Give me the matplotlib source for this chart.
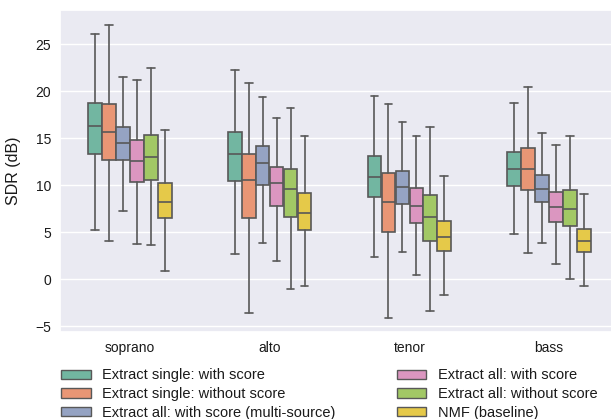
import matplotlib
matplotlib.use("Agg")
import matplotlib.pyplot as plt
import seaborn as sns
from matplotlib.patches import Patch

sns.set_theme(style="darkgrid")
plt.rcParams["font.family"] = ["Liberation Sans", "DejaVu Sans"]

voices = ["soprano", "alto", "tenor", "bass"]
methods = [
    "Extract single: with score",
    "Extract single: without score",
    "Extract all: with score (multi-source)",
    "Extract all: with score",
    "Extract all: without score",
    "NMF (baseline)",
]

# Box statistics per voice, one row per method: (whislo, q1, median, q3, whishi)
soprano = [
    (5.2, 13.3, 16.3, 18.8, 26.1),
    (4.1, 12.7, 15.7, 18.65, 27.1),
    (7.3, 12.65, 14.5, 16.2, 21.55),
    (3.8, 10.4, 12.55, 14.8, 21.2),
    (3.7, 10.6, 13.0, 15.35, 22.45),
    (0.9, 6.5, 8.2, 10.25, 15.9),
]
alto = [
    (2.65, 10.45, 13.35, 15.7, 22.3),
    (-3.55, 6.55, 10.6, 13.35, 20.9),
    (3.9, 10.0, 12.35, 14.15, 19.4),
    (1.95, 7.85, 10.2, 11.9, 17.15),
    (-1.05, 6.6, 9.65, 11.75, 18.25),
    (-0.7, 5.2, 7.1, 9.2, 15.2),
]
tenor = [
    (2.4, 8.8, 10.9, 13.1, 19.5),
    (-4.1, 5.05, 8.2, 11.3, 18.6),
    (2.9, 8.0, 9.8, 11.55, 16.7),
    (0.45, 5.95, 7.8, 9.7, 15.3),
    (-3.4, 4.05, 6.6, 9.0, 16.2),
    (-1.7, 3.05, 4.55, 6.2, 11.0),
]
bass = [
    (4.85, 9.95, 11.7, 13.55, 18.8),
    (2.8, 9.5, 11.75, 13.95, 20.45),
    (3.9, 8.2, 9.6, 11.1, 15.55),
    (1.6, 6.05, 7.7, 9.3, 14.3),
    (0.03, 5.65, 7.5, 9.45, 15.2),
    (-0.75, 2.95, 4.1, 5.35, 9.1),
]
voice_stats = [soprano, alto, tenor, bass]

yticks = [-5, 0, 5, 10, 15, 20, 25]

colors = sns.color_palette("Set2", len(methods), desat=0.75)
edge = "#585858"
box_w = 0.1

fig = plt.figure(figsize=(6.11, 4.19), dpi=100)
W, H = 611, 419
ax = fig.add_axes([60 / W, 1 - 331.7 / H, 559 / W, (331.7 - 10) / H])

for vi, stats in enumerate(voice_stats):
    for mi, (lo, q1, med, q3, hi) in enumerate(stats):
        pos = vi + (mi - (len(methods) - 1) / 2) * box_w
        st = dict(whislo=lo, q1=q1, med=med, q3=q3, whishi=hi, fliers=[])
        ax.bxp(
            [st], positions=[pos], widths=box_w * 0.98, patch_artist=True,
            showfliers=False, capwidths=box_w * 0.55, manage_ticks=False,
            boxprops=dict(facecolor=colors[mi], edgecolor=edge, linewidth=1.2),
            medianprops=dict(color=edge, linewidth=1.2),
            whiskerprops=dict(color=edge, linewidth=1.2),
            capprops=dict(color=edge, linewidth=1.2),
        )

ax.set_xlim(-0.5, len(voices) - 0.5)
ax.set_ylim(-5.57, 28.65)
ax.set_xticks(range(len(voices)))
ax.set_xticklabels(voices)
ax.set_yticks(yticks)
ax.xaxis.grid(False)
ax.tick_params(axis="both", labelsize=10, colors="#1a1a1a", length=0)
ax.tick_params(axis="y", pad=6.5)
ax.tick_params(axis="x", pad=6.5)
ax.set_ylabel("SDR (dB)", fontsize=11.5, color="#1a1a1a")
ax.yaxis.set_label_coords((21 - 60) / 559, 0.5)

handles = [Patch(facecolor=c, edgecolor=edge, linewidth=1.0) for c in colors]
fig.legend(
    handles, methods, loc="upper left", bbox_to_anchor=(57 / W, 1 - 364 / H),
    ncol=2, frameon=False, fontsize=10.5, handlelength=2.0, handleheight=0.6,
    labelspacing=0.32, columnspacing=4.2, handletextpad=0.8,
    labelcolor="#1a1a1a", borderaxespad=0, borderpad=0.3,
)

fig.savefig("out.png", dpi=100)
